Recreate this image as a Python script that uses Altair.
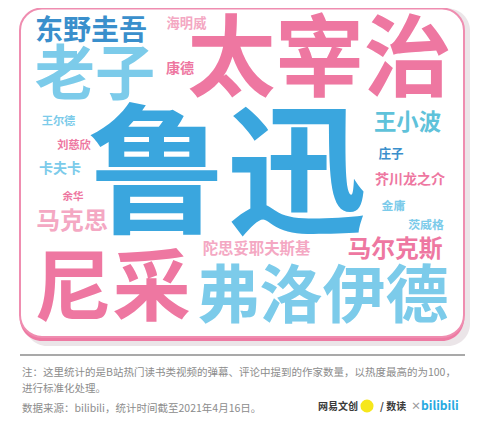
import altair as alt
import pandas as pd

# 作家热度，以热度最高的为100
authors = ['鲁迅', '太宰治', '尼采', '弗洛伊德', '老子', '东野圭吾', '马尔克斯', '马克思',
           '王小波', '陀思妥耶夫斯基', '卡夫卡', '康德', '芥川龙之介', '海明威', '庄子',
           '茨威格', '金庸', '王尔德', '刘慈欣', '余华']
heat = [100, 63, 56, 45, 43, 20, 17, 17, 16, 11, 10, 10, 10, 9.5, 9, 8.5, 8.5, 8, 8, 7.5]
tone = ['blue', 'rose', 'rose', 'sky', 'sky', 'navy', 'rose', 'blush', 'teal', 'blush',
        'sky', 'rose', 'rose', 'blush', 'navy', 'sky', 'sky', 'sky', 'rose', 'rose']
# word cloud placement (centre of each word, page pixels)
cloud_x = [227, 319.5, 112.5, 322.5, 95, 91, 395, 72, 407.5, 256.5,
           60, 180, 410, 186.5, 391, 426, 393.5, 58.5, 74, 73]
cloud_y = [167, 55, 284, 292, 71, 29, 248, 220, 121, 248,
           168, 68, 179, 22.5, 153, 224, 205, 121, 145, 196]

notes = ['注：这里统计的是B站热门读书类视频的弹幕、评论中提到的作家数量，以热度最高的为100，',
         '进行标准化处理。',
         '数据来源：bilibili，统计时间截至2021年4月16日。']

FONT = 'Noto Sans CJK SC'
tone_domain = ['blue', 'navy', 'sky', 'teal', 'rose', 'blush']
tone_range = ['#3aa6de', '#3a8fcc', '#7ccbea', '#5fc2da', '#ee77a1', '#f4a8c3']

cloud = pd.DataFrame({'author': authors, 'heat': heat, 'tone': tone,
                      'x': cloud_x, 'y': cloud_y})

X = alt.Scale(domain=[8, 476], range=[0, 468])
Y = alt.Scale(domain=[8, 414], range=[0, 406])

# card behind the cloud
card = pd.DataFrame({'x': [20], 'x2': [464], 'y': [8.5], 'y2': [337]})
shadow = card.assign(x=card.x + 5, x2=card.x2 + 6, y2=card.y2 + 9)
lip = card.assign(y2=card.y2 + 4)

def frame(df, **kw):
    return alt.Chart(df).mark_rect(cornerRadius=22, **kw).encode(
        x=alt.X('x:Q', scale=X, axis=None), x2='x2',
        y=alt.Y('y:Q', scale=Y, axis=None), y2='y2')

shadow_layer = frame(shadow, fill='#ebe5e8')
lip_layer = frame(lip, fill='#ee7aa3')
card_layer = frame(card, fill='white', stroke='#ef8db0', strokeWidth=2)

words = alt.Chart(cloud).transform_calculate(
    # shift so the ink of the CJK glyphs is centred on y
    cy='datum.y + 0.13 * datum.heat'
).mark_text(font=FONT, fontWeight='bold', baseline='middle', align='center').encode(
    x=alt.X('x:Q', scale=X, axis=None),
    y=alt.Y('cy:Q', scale=Y, axis=None),
    text='author:N',
    size=alt.Size('heat:Q', scale=alt.Scale(domain=[0, 100], range=[0, 140]), legend=None),
    color=alt.Color('tone:N', scale=alt.Scale(domain=tone_domain, range=tone_range), legend=None)
)

divider = alt.Chart(pd.DataFrame({'x': [20], 'x2': [465], 'y': [355]})).mark_rule(
    color='#555555', strokeWidth=1.2
).encode(x=alt.X('x:Q', scale=X, axis=None), x2='x2', y=alt.Y('y:Q', scale=Y, axis=None))

note_df = pd.DataFrame({'text': notes, 'x': [22, 22, 22], 'y': [373, 389, 409]})
note_layer = alt.Chart(note_df).mark_text(
    font=FONT, fontSize=10.5, color='#8c8c8c', align='left', baseline='middle'
).encode(x=alt.X('x:Q', scale=X, axis=None), y=alt.Y('y:Q', scale=Y, axis=None), text='text:N')

logo_df = pd.DataFrame({
    'text': ['网易文创', '/ 数读', '×', 'bilibili'],
    'x': [318, 380, 411, 421],
    'y': [407, 407, 407, 406],
    'c': ['#3a3a3a', '#3a3a3a', '#9a9a9a', '#27a9e1'],
    'fs': [10, 10, 10, 12],
})
dot = alt.Chart(pd.DataFrame({'x': [367], 'y': [406]})).mark_circle(
    size=170, color='#f6e71c', opacity=1
).encode(x=alt.X('x:Q', scale=X, axis=None), y=alt.Y('y:Q', scale=Y, axis=None))
logo = alt.Chart(logo_df).mark_text(
    font=FONT, fontWeight='bold', align='left', baseline='middle'
).encode(
    x=alt.X('x:Q', scale=X, axis=None), y=alt.Y('y:Q', scale=Y, axis=None),
    text='text:N', color=alt.Color('c:N', scale=None),
    size=alt.Size('fs:Q', scale=None)
)

chart = alt.layer(
    shadow_layer, lip_layer, card_layer, words, divider, note_layer, dot, logo
).properties(
    width=468, height=406, padding=0, autosize=alt.AutoSizeParams(type='none'),
    background='white'
).configure_view(stroke=None)

chart.save("out.html", embed_options={"renderer": "svg", "actions": False})
